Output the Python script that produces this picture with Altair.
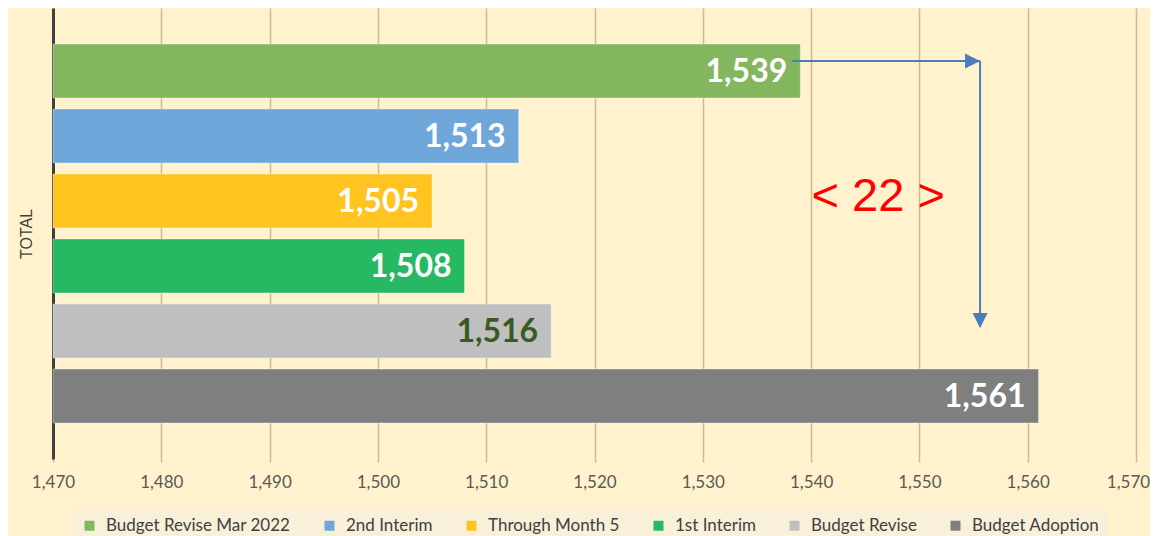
import altair as alt
import pandas as pd

series = ["Budget Revise Mar 2022", "2nd Interim", "Through Month 5",
          "1st Interim", "Budget Revise", "Budget Adoption"]
values = [1539, 1513, 1505, 1508, 1516, 1561]
bar_colors = ["#84B65F", "#6FA7DA", "#FFC420", "#27B864", "#BFBFBF", "#7F7F7F"]
label_colors = ["#FFFFFF", "#FFFFFF", "#FFFFFF", "#FFFFFF", "#3A5A23", "#FFFFFF"]
x_ticks = [1470, 1480, 1490, 1500, 1510, 1520, 1530, 1540, 1550, 1560, 1570]
axis_min, axis_max = 1470, 1570

# annotation: arrow from the first bar to a corner, then down, and the difference label
arrow_corner_x = 1555.6
arrow_from = "Budget Revise Mar 2022"
arrow_to = "Budget Revise"
diff_text = "< 22 >"
diff_x = 1546.2
diff_row = "Through Month 5"

df = pd.DataFrame({
    "series": series,
    "value": values,
    "base": [axis_min] * len(series),
    "label": [f"{v:,}" for v in values],
    "lblcolor": label_colors,
})
arrow_h = pd.DataFrame({"x": [values[0]], "x2": [arrow_corner_x], "series": [arrow_from]})
arrow_v = pd.DataFrame({"x": [arrow_corner_x], "s1": [arrow_from], "s2": [arrow_to]})
head_r = pd.DataFrame({"x": [arrow_corner_x], "series": [arrow_from]})
head_d = pd.DataFrame({"x": [arrow_corner_x], "series": [arrow_to]})
diff_df = pd.DataFrame({"x": [diff_x], "series": [diff_row], "t": [diff_text]})

xscale = alt.Scale(domain=[axis_min, axis_max], nice=False, zero=False)
yscale = alt.Scale(domain=series, paddingInner=0.17, paddingOuter=0.554)

x_axis = alt.Axis(values=x_ticks, format=",d", title=None, domain=False,
                  grid=True, gridColor="#C8BA9C", gridWidth=1.5,
                  ticks=True, tickColor="#C8BA9C", tickSize=3, tickWidth=1.5,
                  labelFont="Lato", labelFontSize=17, labelColor="#595959",
                  labelPadding=12, labelFlush=False, labelOverlap=False,
                  labelOffset={"condition": {"test": f"datum.value >= {axis_max}", "value": -8},
                               "value": 0})
y_axis = alt.Axis(labels=False, ticks=False, grid=False, title="TOTAL",
                  domain=True, domainColor="#404040", domainWidth=3,
                  titleFont="Liberation Sans", titleFontSize=16,
                  titleFontWeight="normal", titleColor="#404040",
                  titlePadding=19)

bars = alt.Chart(df).mark_bar(stroke="#FFFFFF", strokeOpacity=0.35, strokeWidth=1).encode(
    x=alt.X("base:Q", scale=xscale, axis=x_axis),
    x2="value:Q",
    y=alt.Y("series:N", scale=yscale, axis=y_axis, sort=series),
    color=alt.Color("series:N", sort=series,
                    scale=alt.Scale(domain=series, range=bar_colors),
                    legend=alt.Legend(title=None, orient="none", legendX=20, legendY=501,
                                      direction="horizontal", symbolType="square",
                                      symbolSize=100, symbolStrokeWidth=0,
                                      labelFont="Lato", labelFontSize=17,
                                      labelColor="#404040", labelOffset=8,
                                      columnPadding=30, fillColor="#F9F0DA",
                                      padding=8, columns=6, labelLimit=400)),
)

labels = alt.Chart(df).mark_text(align="right", baseline="middle", dx=-13, dy=1,
                                 font="Lato", fontSize=32, fontWeight="bold").encode(
    x=alt.X("value:Q", scale=xscale),
    y=alt.Y("series:N", scale=yscale, sort=series),
    text="label:N",
    color=alt.Color("lblcolor:N", scale=None),
)

arrow_color = "#4A7EBB"
hline = alt.Chart(arrow_h).mark_rule(color=arrow_color, strokeWidth=2, xOffset=-8,
                                     yOffset=-10).encode(
    x=alt.X("x:Q", scale=xscale), x2="x2:Q",
    y=alt.Y("series:N", scale=yscale, sort=series),
)
vline = alt.Chart(arrow_v).mark_rule(color=arrow_color, strokeWidth=2, yOffset=-10,
                                     y2Offset=-4).encode(
    x=alt.X("x:Q", scale=xscale),
    y=alt.Y("s1:N", scale=yscale, sort=series),
    y2="s2:N",
)
hr = alt.Chart(head_r).mark_point(shape="M-1,-1L1,0L-1,1Z", size=225, filled=True,
                                  opacity=1, color=arrow_color, xOffset=-7.5,
                                  yOffset=-10).encode(
    x=alt.X("x:Q", scale=xscale),
    y=alt.Y("series:N", scale=yscale, sort=series),
)
hd = alt.Chart(head_d).mark_point(shape="M-1,-1L1,-1L0,1Z", size=225, filled=True,
                                  opacity=1, color=arrow_color, yOffset=-10.5).encode(
    x=alt.X("x:Q", scale=xscale),
    y=alt.Y("series:N", scale=yscale, sort=series),
)
diff = alt.Chart(diff_df).mark_text(font="Liberation Sans", fontSize=47, color="#FF0000",
                                    baseline="middle", align="center", dy=-4).encode(
    x=alt.X("x:Q", scale=xscale),
    y=alt.Y("series:N", scale=yscale, sort=series),
    text="t:N",
)

chart = alt.layer(bars, labels, hline, vline, hr, hd, diff).resolve_scale(
    color="independent"
).properties(
    width=1083, height=451,
    autosize=alt.AutoSizeParams(type="none"),
    padding={"left": 45, "top": 0, "right": 14, "bottom": 77},
    background="#FFF2CC",
).configure_view(stroke=None)

chart.save("out.html", embed_options={"renderer": "svg", "actions": False})
